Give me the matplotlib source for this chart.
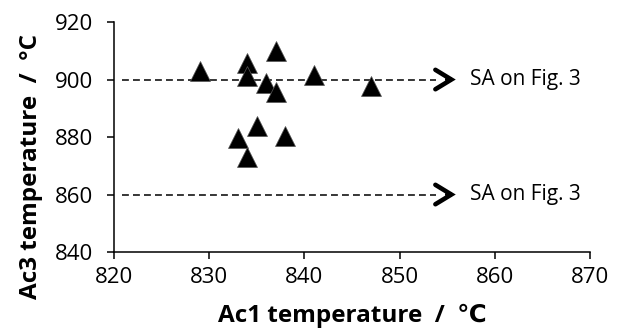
import matplotlib
matplotlib.use("Agg")
import matplotlib.pyplot as plt

ac1 = [829, 834, 834, 837, 836, 837, 841, 835, 833, 838, 834, 847]
ac3 = [902.8, 905.8, 901.3, 910, 898.7, 895.7, 901.7, 883.8, 879.7, 880.5, 873, 897.6]

ref_levels = [900, 860]
ref_label = "SA on Fig. 3"
xticks = [820, 830, 840, 850, 860, 870]
yticks = [840, 860, 880, 900, 920]

plt.rcParams['font.family'] = ['Open Sans', 'DejaVu Sans']

fig = plt.figure(figsize=(6.24, 3.29), dpi=100)
ax = fig.add_axes([0.1827, 0.234, 0.9455 - 0.1827, 0.933 - 0.234])

ax.plot(ac1, ac3, linestyle='none', marker='^', ms=15, color='black',
        markeredgecolor='#555555', markeredgewidth=0.5, zorder=3)

for lvl in ref_levels:
    ax.plot([820.8, 853.8], [lvl, lvl], color='black', lw=1.1,
            dashes=(4.5, 2.7), zorder=2)
    ax.annotate('', xy=(855.9, lvl), xytext=(855.0, lvl),
                arrowprops=dict(arrowstyle='->,head_length=1.15,head_width=0.7',
                                color='black', lw=3.3, shrinkA=0, shrinkB=0,
                                joinstyle='miter', capstyle='round'))
    ax.text(857.4, lvl, ref_label, fontsize=15, va='center', ha='left')

ax.set_xlim(820, 870)
ax.set_ylim(840, 920)
ax.set_xticks(xticks)
ax.set_yticks(yticks)
ax.tick_params(labelsize=16, direction='out', length=5, width=1.1)
ax.tick_params(axis='x', pad=6)
ax.tick_params(axis='y', pad=10)
for s in ['top', 'right']:
    ax.spines[s].set_visible(False)
for s in ['left', 'bottom']:
    ax.spines[s].set_linewidth(1.1)

ax.set_xlabel('Ac1 temperature  /  \u2103', fontsize=17.5, fontweight='bold', labelpad=11)
ax.set_ylabel('Ac3 temperature  /  \u00b0C', fontsize=17.5, fontweight='bold')
ax.yaxis.set_label_coords(-0.149, 0.37)

fig.savefig('out.png', dpi=100)
